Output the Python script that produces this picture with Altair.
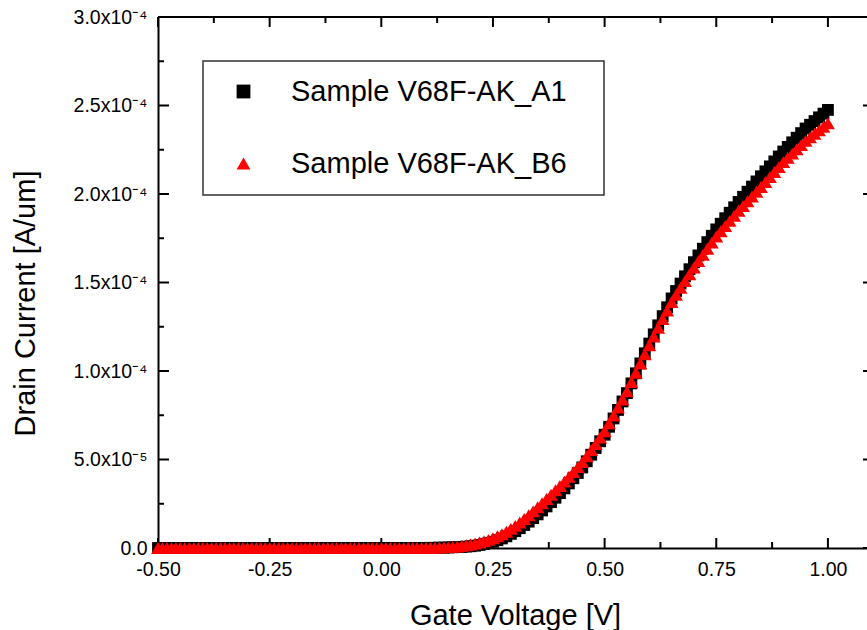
import altair as alt
import pandas as pd

# ---------------- data ----------------
sample_names = ["Sample V68F-AK_A1", "Sample V68F-AK_B6"]

# gate-voltage sweep -0.50 ... 1.00 V in 0.01 V steps
gate_voltage = [round(-0.50 + 0.01 * i, 2) for i in range(151)]

# drain current in units of 1e-4 A/um
current_A1 = [
    0, 0, 0, 0, 0, 0, 0, 0, 0, 0,          # -0.50 .. -0.41
    0, 0, 0, 0, 0, 0, 0, 0, 0, 0,          # -0.40 .. -0.31
    0, 0, 0, 0, 0, 0, 0, 0, 0, 0,          # -0.30 .. -0.21
    0, 0, 0, 0, 0, 0, 0, 0, 0, 0,          # -0.20 .. -0.11
    0, 0, 0, 0, 0, 0, 0, 0, 0, 0,          # -0.10 .. -0.01
    0, 0, 0, 0, 0, 0, 0, 0, 0, 0,          #  0.00 ..  0.09
    0.000, 0.001, 0.001, 0.002, 0.002, 0.003, 0.004, 0.005, 0.006, 0.008,   # 0.10..0.19
    0.010, 0.013, 0.017, 0.022, 0.028, 0.035, 0.044, 0.054, 0.066, 0.080,   # 0.20..0.29
    0.095, 0.112, 0.130, 0.149, 0.169, 0.190, 0.212, 0.235, 0.259, 0.284,   # 0.30..0.39
    0.310, 0.337, 0.365, 0.394, 0.424, 0.455, 0.490, 0.527, 0.565, 0.603,   # 0.40..0.49
    0.640, 0.685, 0.732, 0.780, 0.828, 0.875, 0.930, 0.987, 1.043, 1.100,   # 0.50..0.59
    1.155, 1.207, 1.258, 1.310, 1.360, 1.410, 1.452, 1.494, 1.535, 1.575,   # 0.60..0.69
    1.615, 1.653, 1.691, 1.728, 1.764, 1.800, 1.832, 1.863, 1.894, 1.925,   # 0.70..0.79
    1.955, 1.984, 2.013, 2.042, 2.071, 2.100, 2.128, 2.156, 2.184, 2.212,   # 0.80..0.89
    2.240, 2.266, 2.292, 2.318, 2.344, 2.370, 2.391, 2.412, 2.433, 2.454,   # 0.90..0.99
    2.475,                                                                  # 1.00
]

current_B6 = [
    0, 0, 0, 0, 0, 0, 0, 0, 0, 0,
    0, 0, 0, 0, 0, 0, 0, 0, 0, 0,
    0, 0, 0, 0, 0, 0, 0, 0, 0, 0,
    0, 0, 0, 0, 0, 0, 0, 0, 0, 0,
    0, 0, 0, 0, 0, 0, 0, 0, 0, 0,
    0, 0, 0, 0, 0, 0, 0, 0, 0, 0,
    0.001, 0.001, 0.002, 0.003, 0.004, 0.005, 0.007, 0.009, 0.012, 0.016,   # 0.10..0.19
    0.020, 0.025, 0.031, 0.038, 0.046, 0.055, 0.066, 0.078, 0.092, 0.108,   # 0.20..0.29
    0.125, 0.144, 0.164, 0.185, 0.207, 0.230, 0.253, 0.277, 0.301, 0.326,   # 0.30..0.39
    0.350, 0.375, 0.402, 0.429, 0.457, 0.485, 0.518, 0.553, 0.588, 0.624,   # 0.40..0.49
    0.660, 0.704, 0.749, 0.794, 0.839, 0.885, 0.937, 0.990, 1.042, 1.094,   # 0.50..0.59
    1.145, 1.195, 1.244, 1.293, 1.342, 1.390, 1.430, 1.470, 1.509, 1.547,   # 0.60..0.69
    1.585, 1.621, 1.656, 1.691, 1.726, 1.760, 1.790, 1.819, 1.848, 1.877,   # 0.70..0.79
    1.905, 1.932, 1.959, 1.986, 2.013, 2.040, 2.068, 2.096, 2.124, 2.152,   # 0.80..0.89
    2.180, 2.204, 2.228, 2.252, 2.276, 2.300, 2.320, 2.340, 2.360, 2.380,   # 0.90..0.99
    2.400,                                                                  # 1.00
]

x_major = [-0.50, -0.25, 0.00, 0.25, 0.50, 0.75, 1.00]
x_minor = [-0.375, -0.125, 0.125, 0.375, 0.625, 0.875]
y_major = [0.0, 0.5e-4, 1.0e-4, 1.5e-4, 2.0e-4, 2.5e-4, 3.0e-4]
y_minor = [0.25e-4, 0.75e-4, 1.25e-4, 1.75e-4, 2.25e-4, 2.75e-4]

# ---------------- tables ----------------
df_a1 = pd.DataFrame({"voltage": gate_voltage,
                      "current": [v * 1e-4 for v in current_A1],
                      "sample": sample_names[0]})
df_b6 = pd.DataFrame({"voltage": gate_voltage,
                      "current": [v * 1e-4 for v in current_B6],
                      "sample": sample_names[1]})

FONT = "Liberation Sans"
W, H = 709, 531
sx = alt.Scale(domain=[-0.5, 1.0875], nice=False, zero=False)
sy = alt.Scale(domain=[0, 3.0e-4], nice=False, zero=False)

color_scale = alt.Scale(domain=sample_names, range=["#000000", "#ff0000"])
shape_scale = alt.Scale(domain=sample_names, range=["square", "triangle-up"])

legend = alt.Legend(
    title=None, orient="none", legendX=45, legendY=44, direction="vertical",
    fillColor="white", strokeColor="#333333", padding=16,
    symbolSize=190, symbolStrokeWidth=0, symbolOffset=10, labelOffset=33,
    labelFont=FONT, labelFontSize=29, labelColor="black", labelLimit=600,
    rowPadding=42, labelExpr="datum.label + '\u2800'",
)

y_label_expr = ("datum.value == 0 ? '0.0' : (datum.value < 0.00009 ? "
                "format(datum.value * 100000, '.1f') + 'x10\u207b\u2075' : "
                "format(datum.value * 10000, '.1f') + 'x10\u207b\u2074')")
x_label_expr = "(datum.value < 0 ? '-' : '') + format(abs(datum.value), '.2f')"

x_main_axis = alt.Axis(
    orient="bottom", values=x_major, ticks=False, tickSize=0, grid=False,
    domain=True, domainColor="black", domainWidth=2, labelFlush=False,
    labelFont=FONT, labelFontSize=19.5, labelColor="black", labelPadding=12,
    labelExpr=x_label_expr,
    title="Gate Voltage [V]", titleFont=FONT, titleFontSize=29,
    titleFontWeight="normal", titleColor="black",
    titleX=357, titleY=53, titleBaseline="top", titleAlign="center",
)
y_main_axis = alt.Axis(
    orient="left", values=y_major, ticks=False, tickSize=0, grid=False,
    domain=True, domainColor="black", domainWidth=2, labelFlush=False,
    labelFont=FONT, labelFontSize=19.5, labelColor="black", labelPadding=11,
    labelExpr=y_label_expr,
    title="Drain Current [A/um]", titleFont=FONT, titleFontSize=29,
    titleFontWeight="normal", titleColor="black",
    titleAngle=270, titleBaseline="bottom", titleAlign="center",
    titleX=-118, titleY=286,
)


# ---------------- inward tick marks and top frame line ----------------
def x_ticks(values, y0, y1):
    return alt.Chart(pd.DataFrame({"voltage": values})).mark_rule(
        color="black", strokeWidth=2
    ).encode(x=alt.X("voltage:Q", scale=sx, axis=x_main_axis),
             y=alt.value(y0), y2=alt.value(y1))


def y_ticks(values, x0, x1):
    return alt.Chart(pd.DataFrame({"current": values})).mark_rule(
        color="black", strokeWidth=2
    ).encode(y=alt.Y("current:Q", scale=sy, axis=y_main_axis),
             x=alt.value(x0), x2=alt.value(x1))


frame_top = alt.Chart(pd.DataFrame({"current": [3.0e-4]})).mark_rule(
    color="black", strokeWidth=2
).encode(y=alt.Y("current:Q", scale=sy, axis=y_main_axis),
         x=alt.value(0), x2=alt.value(W))

tick_layers = [
    x_ticks(x_major, H - 10, H), x_ticks(x_minor, H - 6, H),
    x_ticks(x_major, 0, 10), x_ticks(x_minor, 0, 6),
    y_ticks(y_major, 0, 11), y_ticks(y_minor, 0, 6),
    y_ticks(y_major, W - 4, W),
    frame_top,
]

black_layer = alt.Chart(df_a1).mark_point(
    filled=True, opacity=1, size=140, strokeWidth=0
).encode(
    x=alt.X("voltage:Q", scale=sx, axis=x_main_axis),
    y=alt.Y("current:Q", scale=sy, axis=y_main_axis),
    color=alt.Color("sample:N", scale=color_scale, legend=legend),
    shape=alt.Shape("sample:N", scale=shape_scale, legend=legend),
)

red_layer = alt.Chart(df_b6).mark_point(
    filled=True, opacity=1, size=190, strokeWidth=0
).encode(
    x=alt.X("voltage:Q", scale=sx, axis=x_main_axis),
    y=alt.Y("current:Q", scale=sy, axis=y_main_axis),
    color=alt.Color("sample:N", scale=color_scale, legend=legend),
    shape=alt.Shape("sample:N", scale=shape_scale, legend=legend),
)

chart = alt.layer(
    black_layer, *tick_layers, red_layer,
).properties(
    width=W, height=H,
    padding={"left": 158, "top": 17, "right": 0, "bottom": 82},
    autosize=alt.AutoSizeParams(type="none"),
    background="white",
).configure_view(stroke=None).configure_legend(strokeWidth=1.5)

chart.save("out.html", embed_options={"renderer": "svg", "actions": False})
